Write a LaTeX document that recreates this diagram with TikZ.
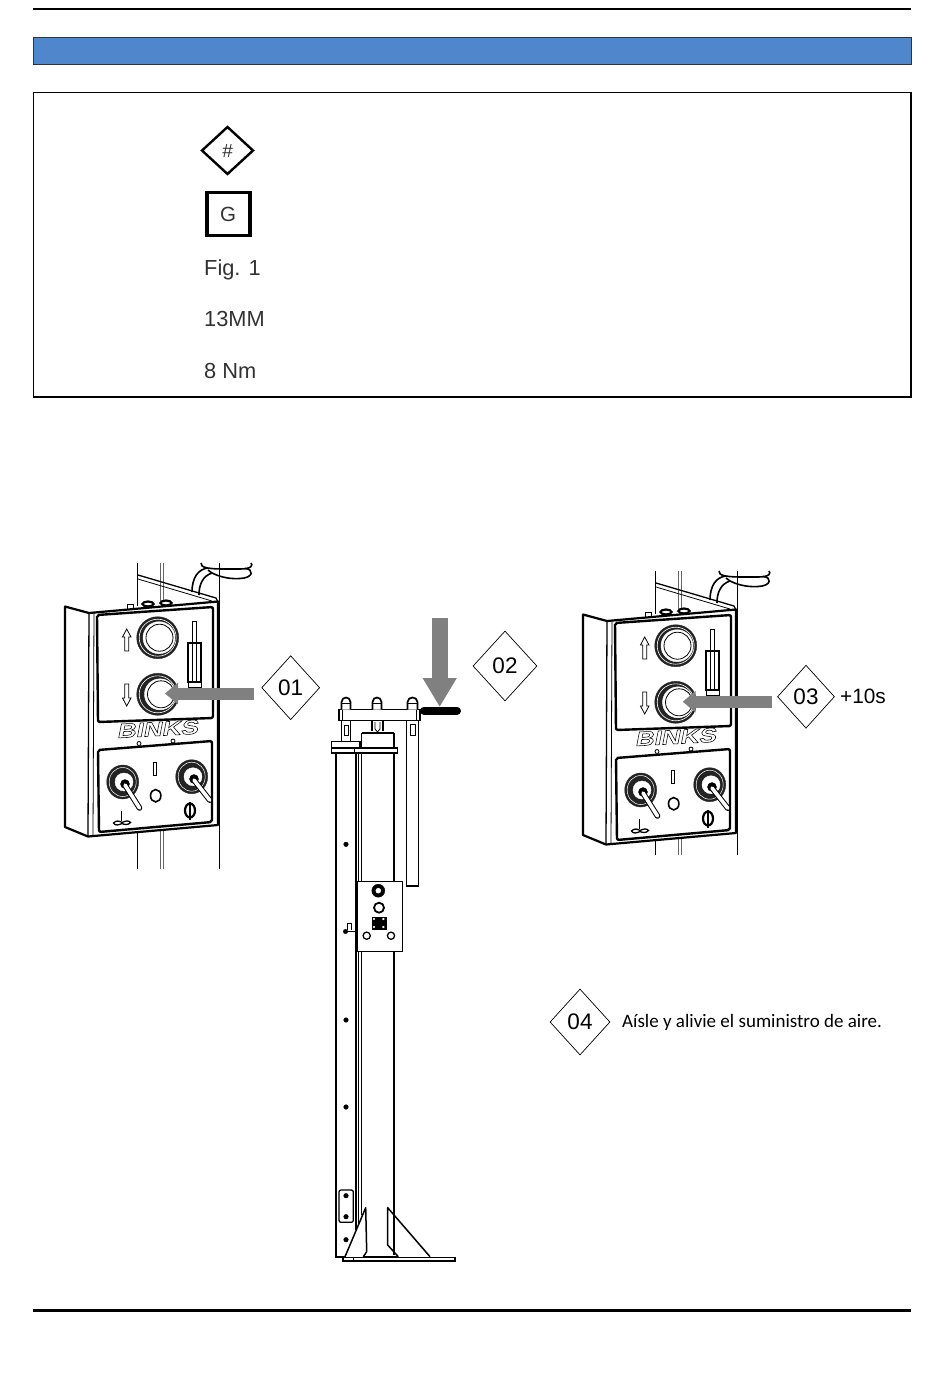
\documentclass[tikz,border=0pt]{standalone}
\usepackage{fontspec}
\setmainfont{Liberation Sans}
\newfontfamily\notefont{Carlito}
\newfontfamily\binksfont[FakeStretch=1.3,FakeSlant=0.25]{Liberation Sans}
\usetikzlibrary{shapes.geometric,arrows.meta}

\definecolor{barblue}{RGB}{79,134,204}
\definecolor{arrowgrey}{RGB}{128,128,128}
\definecolor{legendtext}{RGB}{50,50,50}
\definecolor{ringdark}{RGB}{35,35,35}

\tikzset{
  stepmark/.style={diamond,draw,line width=0.7pt,inner sep=0pt,font=\fontsize{22.5}{22.5}\selectfont},
  legendlabel/.style={anchor=base west,inner sep=0pt,text=legendtext,font=\fontsize{21.8}{21.8}\selectfont},
  greyarrow/.style={draw=arrowgrey,line width=12pt,-{Triangle[length=13pt,width=21pt,color=arrowgrey]}},
  lever/.style={line width=1pt,double=white,double distance=3.6pt,line cap=round},
  thinpart/.style={line width=0.8pt},
  midpart/.style={line width=1.3pt},
  heavypart/.style={line width=2.2pt}
}

% control panel, drawn at the place of the left one
\newcommand{\ctrlpanel}[3]{
  \begin{scope}[xshift=#1pt,yshift=-#2pt]
      % posts and bracket behind the housing
      \draw[midpart] (137.5,563) -- (137.5,606);
      \draw[midpart] (137.5,832) -- (137.5,#3);
      \draw[thinpart,black!60] (160,563) -- (160,604);
      \draw[thinpart,black!60] (163.5,563) -- (163.5,604);
      \draw[thinpart,black!60] (160,830) -- (160,#3);
      \draw[thinpart,black!60] (163.5,830) -- (163.5,#3);
      \draw[midpart] (219.5,563) -- (219.5,#3);
      \draw[midpart] (138,575) -- (216,598) -- (218,602);
      \draw[thinpart] (138,579) -- (212,601);
      % cable
      \draw[line width=1.6pt] (192,592) .. controls (192,578) and (198,569) .. (208,568);
      \draw[line width=1.6pt] (199,595) .. controls (199,584) and (203,576) .. (212,573);
      \draw[line width=1.6pt] (201,563) .. controls (200,568) and (210,569) .. (225,569) -- (240,569) .. controls (252,569) and (253,565) .. (251,563);
      \draw[line width=1.6pt] (208,570) -- (212,573) .. controls (222,578) and (232,579) .. (240,578.5) .. controls (254,578) and (254,569) .. (245,568.5);
      % nuts on top of the housing
      \draw[thinpart,fill=white] (127,611) -- (127,604.5) -- (133,604.5) -- (133,610);
      \filldraw[fill=white,heavypart] (148,604) ellipse (5.5pt and 2.5pt);
      \filldraw[fill=white,heavypart] (166,603) ellipse (5.5pt and 2.5pt);
      % housing
      \draw[heavypart,fill=white,line join=round] (65,606.5) -- (89,613) -- (218,601.5) -- (218,825) -- (88,836.5) -- (65,827) -- cycle;
      \draw[midpart] (89,613) -- (88,836.5);
      \draw[thinpart] (94,613) -- (93,836);
      % the two plates
      \draw[line width=2.4pt,rounded corners=2pt] (97,615) -- (213,607) -- (213,718) -- (98,722) -- cycle;
      \draw[line width=2.4pt,rounded corners=2pt] (98,750) -- (212,741) -- (212,822) -- (99,832) -- cycle;
      % push buttons
      \filldraw[ringdark] (157.7,637.7) circle (21pt);
      \draw[white,line width=0.6pt] (157.7,637.7) circle (18.5pt);
      \filldraw[fill=white,draw=white] (159,637.7) circle (16pt);
      \draw[thinpart] (159.5,637.7) circle (13.5pt);
      \filldraw[ringdark] (157.7,694.3) circle (21pt);
      \draw[white,line width=0.6pt] (157.7,694.3) circle (18.5pt);
      \filldraw[fill=white,draw=white] (160,694.3) circle (15.5pt);
      \draw[thinpart] (161,694.3) circle (13.5pt);
      % direction arrows beside the buttons
      \draw[thinpart,fill=white] (124.7,651) -- (124.7,637) -- (122.5,637) -- (126.7,629) -- (131,637) -- (128.7,637) -- (128.7,651) -- cycle;
      \draw[thinpart,fill=white] (124.7,684) -- (124.7,698) -- (122.5,698) -- (126.7,706) -- (131,698) -- (128.7,698) -- (128.7,684) -- cycle;
      % level indicator
      \draw[thinpart] (192,643) -- (192,621) -- (196,621) -- (196,643);
      \draw[midpart] (188,643) rectangle (201,682);
      \draw[thinpart] (192,643) -- (192,681);
      \draw[thinpart] (196,643) -- (196,681);
      \draw[thinpart] (188,682) -- (188,687) -- (201,687) -- (201,682);
      % name plate
      \node (binks) at (157,729) [inner sep=0pt,rotate=3,font=\binksfont\bfseries\fontsize{20}{20}\selectfont] {\special{pdf:literal 1 Tr 0.55 w}BINKS\special{pdf:literal 0 Tr}};
      \draw[thinpart,fill=white] (139,743.5) circle (2pt);
      \draw[thinpart,fill=white] (173,741) circle (2pt);
      % toggle switches
      \filldraw[ringdark] (122.7,782) ellipse (16pt and 17pt);
      \draw[white,line width=0.5pt] (122.7,782) ellipse (13.5pt and 14.5pt);
      \filldraw[fill=white,draw=white] (124,782) circle (9pt);
      \filldraw[black] (125,784) circle (4.5pt);
      \draw[lever] (125,785) -- (139.5,808);
      \filldraw[ringdark] (191.7,776.7) ellipse (16pt and 17pt);
      \draw[white,line width=0.5pt] (191.7,776.7) ellipse (13.5pt and 14.5pt);
      \filldraw[fill=white,draw=white] (193,776.7) circle (9pt);
      \filldraw[black] (194,779) circle (4.5pt);
      \draw[lever] (194,780) -- (209.8,800.2);
      % on and off marks
      \draw[thinpart,fill=white] (153.8,762) rectangle (156.6,775);
      \draw[line width=1.6pt] (155.7,795.7) ellipse (5.2pt and 6.2pt);
      % symbols under the toggles
      \draw[midpart] (121.7,811) -- (121.7,821);
      \draw[midpart] (113.5,823) .. controls (116,820) and (120,821) .. (122,822.5) .. controls (125,821) and (129,820) .. (130.5,822.5) .. controls (128,825.5) and (124,824.5) .. (122,823.5) .. controls (119,825) and (115,826) .. (113.5,823) -- cycle;
      \draw[heavypart] (190,810.5) ellipse (5pt and 7pt);
      \draw[midpart] (190,802) -- (190,820);
  \end{scope}
}

\begin{document}
\begin{tikzpicture}[x=1pt,y=-1pt]
      \useasboundingbox (0,0) rectangle (950,1379);
      \fill[white] (0,0) rectangle (950,1379);

      % header and legend
      \draw[line width=2.6pt] (33,9) -- (911,9);
      \filldraw[fill=barblue,draw=black!80,line width=0.9pt] (33,37) rectangle (911,64.5);
      \draw[line width=1.4pt] (33.5,92.5) rectangle (911,397);

      \node (legenddiamond) at (227.5,150.5) [diamond,draw,line width=2.4pt,inner sep=0pt,minimum width=52pt,minimum height=48pt,text=legendtext,font=\fontsize{19}{19}\selectfont\itshape] {\#};
      \node (legendsquare) at (228.2,214) [draw,line width=3.6pt,inner sep=0pt,minimum size=43pt,text=legendtext,font=\fontsize{20.5}{20.5}\selectfont] {G};
      \node (legendfig) at (204,275) [legendlabel] {Fig. 1};
      \node (legendsize) at (204,326.7) [legendlabel] {13MM};
      \node (legendtorque) at (204,378) [legendlabel] {8 Nm};

      % control panels
      \ctrlpanel{0}{0}{869}
      \ctrlpanel{518}{8}{847}

      % stand
      \draw[line width=1.6pt] (335.7,753) -- (335.7,1257) -- (345,1257);
      \draw[line width=1.6pt] (355.7,753) -- (355.7,1230);
      \draw[midpart] (358.3,753) -- (358.3,882);
      \draw[midpart] (358.3,952) -- (358.3,1225);
      \draw[midpart] (361.7,753) -- (361.7,882);
      \draw[midpart] (361.7,952) -- (361.7,1215);
      \draw[midpart] (394,753) -- (394,882);
      \draw[midpart] (394,952) -- (394,1255);
      \draw[midpart,fill=white] (406.7,720.7) -- (406.7,886) -- (418.3,886) -- (418.3,720.7);
      \draw[thinpart] (410.5,724) rectangle (415,735);
      \draw[midpart] (341.7,720.7) -- (341.7,741.7);
      \draw[midpart] (350.7,720.7) -- (350.7,741.7);
      \draw[thinpart] (344.3,725) rectangle (348.3,735);
      \draw[midpart] (372,720.7) -- (372,731);
      \draw[midpart] (383,720.7) -- (383,731);
      \draw[thinpart] (375,722) -- (375,729) -- (377.5,732) -- (380,729) -- (380,722);
      \draw[midpart,fill=white] (361.7,748) -- (361.7,733.5) -- (394,733.5) -- (394,748);
      \draw[line width=2pt] (361.7,733) -- (394,733);
      \draw[midpart,fill=white] (331.7,741.7) rectangle (360,748);
      \draw[midpart,fill=white] (331.7,748) rectangle (397.7,753);
      \draw[thinpart] (354,748) -- (354,753);

      % top plate, nuts and handle
      \draw[line width=8pt,line cap=round] (424,710.7) -- (457,710.7);
      \draw[midpart,fill=white] (339,709.5) rectangle (420,720.7);
      \draw[thinpart] (342.5,709.5) -- (342.5,720.7);
      \draw[thinpart] (416.5,709.5) -- (416.5,720.7);
      \draw[line width=1.7pt,fill=white] (341.5,709.5) -- (341.5,702) .. controls (342,696) and (350,696) .. (350.5,702) -- (350.5,709.5);
      \draw[line width=1.7pt,fill=white] (372.5,709.5) -- (372.5,702) .. controls (373,696) and (381,696) .. (381.5,702) -- (381.5,709.5);
      \draw[line width=1.7pt,fill=white] (407.5,709.5) -- (407.5,702) .. controls (408,696) and (417,696) .. (417.5,702) -- (417.5,709.5);
      \draw[midpart] (341.5,703.5) -- (350.5,703.5);
      \draw[midpart] (372.5,703.5) -- (381.5,703.5);
      \draw[midpart] (407.5,703.5) -- (417.5,703.5);

      % box with fittings
      \draw[midpart,fill=white] (357.3,881.7) rectangle (402.3,951.7);
      \filldraw[black] (378.3,890.7) circle (6.5pt);
      \filldraw[white] (378.3,890.7) circle (2.5pt);
      \draw[line width=1.8pt] (379,907.7) circle (5pt);
      \filldraw[black] (371.7,916.7) rectangle (385.7,929.3);
      \filldraw[white] (374,919) circle (0.9pt);
      \filldraw[white] (383.4,919) circle (0.9pt);
      \filldraw[white] (374,927) circle (0.9pt);
      \filldraw[white] (383.4,927) circle (0.9pt);
      \draw[midpart] (366.7,935.7) circle (3.6pt);
      \draw[midpart] (391,935.7) circle (3.6pt);
      \draw[midpart,fill=white] (347.5,930) -- (347.5,923.5) -- (351.5,923.5) -- (351.5,930);
      \filldraw[black] (345.5,931.5) circle (2.2pt);
      \draw[midpart] (345.5,931.5) -- (355.5,931.5);

      % holes and small plate on the channel
      \filldraw[black] (346,844.3) circle (2.3pt);
      \filldraw[black] (346,1020) circle (2.3pt);
      \filldraw[black] (346,1107) circle (2.3pt);
      \filldraw[black] (346,1195.7) circle (2.3pt);
      \filldraw[black] (346,1216.7) circle (2.3pt);
      \filldraw[black] (346,1239.7) circle (2.3pt);
      \draw[midpart,rounded corners=2pt] (339,1190) rectangle (353.3,1222.3);

      % foot
      \draw[midpart] (343,1257.5) rectangle (455,1261);
      \draw[thinpart] (353,1257.5) -- (353,1261);
      \draw[line width=1.5pt,line join=round] (345,1256.7) -- (365.7,1207.7) -- (366.7,1251.7) -- (363.3,1256.7);
      \draw[line width=1.5pt,line join=round] (398.3,1256.7) -- (387.7,1245) -- (387.7,1207.7) -- (430,1256.7);
      \draw[thinpart] (363.3,1256) -- (398,1256);

      % numbered steps
      \node (stepone) at (290.7,687.7) [stepmark,minimum width=58pt,minimum height=64pt] {01};
      \node (steptwo) at (505,666) [stepmark,minimum width=64pt,minimum height=70pt] {02};
      \node (stepthree) at (806,696.7) [stepmark,minimum width=57pt,minimum height=63pt] {03};
      \node (stepfour) at (580,1022) [stepmark,minimum width=60pt,minimum height=66pt] {04};
      \node (waittime) at (840,696.5) [anchor=west,inner sep=0pt,font=\fontsize{20.8}{20.8}\selectfont] {+10s};
      \node (airnote) at (622,1022.5) [anchor=west,inner sep=0pt,font=\notefont\fontsize{19}{19}\selectfont] {Aísle y alivie el suministro de aire.};

      % grey arrows
      \coordinate (arrowonestart) at (254,693.5);
      \coordinate (arrowonetip) at (165,693.5);
      \coordinate (arrowtwostart) at (439.7,618);
      \coordinate (arrowtwotip) at (439.7,707);
      \coordinate (arrowthreestart) at (771.7,701.7);
      \coordinate (arrowthreetip) at (682.7,701.7);
      \draw[greyarrow] (arrowonestart) -- (arrowonetip);
      \draw[greyarrow,line width=16pt,-{Triangle[length=29pt,width=32pt,color=arrowgrey]}] (arrowtwostart) -- (arrowtwotip);
      \draw[greyarrow] (arrowthreestart) -- (arrowthreetip);

      % closing rule
      \draw[line width=3pt] (33,1310) -- (911,1310);
\end{tikzpicture}
\end{document}
